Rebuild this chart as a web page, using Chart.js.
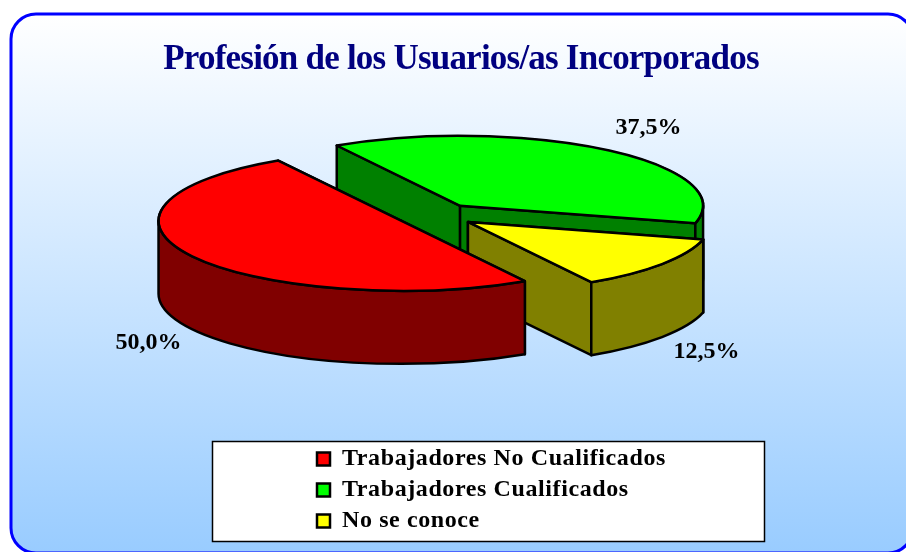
<!DOCTYPE html>
<html><head><meta charset="utf-8">
<style>html,body{margin:0;padding:0;background:#fff}canvas{display:block}</style>
<script src="https://cdn.jsdelivr.net/npm/chart.js@4/dist/chart.umd.min.js"></script>
</head><body><canvas id="c" width="906" height="552"></canvas>
<script>
const categories = ['Trabajadores No Cualificados', 'Trabajadores Cualificados', 'No se conoce'];
const shares = [50.0, 37.5, 12.5];
const topColors = ['#FF0000', '#00FF00', '#FFFF00'];
const sideColors = ['#800000', '#008000', '#808000'];
const titleText = 'Profesión de los Usuarios/as Incorporados';
const paintOrder = [1, 2, 0];
const labelAnchors = [[148.5, 343], [648.5, 128], [706.5, 352]];

const PIE = {cx: 436, cy: 215, radius: 243, squash: 0.288, depth: 73, explode: 40};
const FRAME = {x: 11, y: 14, w: 902, h: 539, r: 25};
const LEGEND_BOX = {x: 212.5, y: 441.5, w: 552, h: 100};
const SERIF = '"Liberation Serif", "Times New Roman", serif';

function withSpacing(box, spacing) {
  const orig = box.draw.bind(box);
  box.draw = function (a) {
    const ctx = box.ctx;
    ctx.save();
    ctx.letterSpacing = spacing;
    orig(a);
    ctx.restore();
  };
}

const pie3d = {
  id: 'pie3d',
  afterLayout(chart) {
    chart.legend.left = 310;
    chart.legend.top = 440;
    chart.legend.right = 760;
    chart.legend.bottom = 540;
    if (!chart.$wrapped) {
      chart.$wrapped = true;
      withSpacing(chart.legend, '0.6px');
      withSpacing(chart.titleBlock, '-0.78px');
    }
  },
  beforeDraw(chart) {
    const ctx = chart.ctx;
    const g = ctx.createLinearGradient(0, FRAME.y, 0, 552);
    g.addColorStop(0, '#FFFFFF');
    g.addColorStop(1, '#99CCFF');
    ctx.save();
    ctx.beginPath();
    ctx.roundRect(FRAME.x, FRAME.y, FRAME.w, FRAME.h, FRAME.r);
    ctx.fillStyle = g;
    ctx.fill();
    ctx.strokeStyle = '#0000FF';
    ctx.lineWidth = 3;
    ctx.stroke();
    ctx.fillStyle = '#FFFFFF';
    ctx.strokeStyle = '#000000';
    ctx.lineWidth = 1.5;
    ctx.fillRect(LEGEND_BOX.x, LEGEND_BOX.y, LEGEND_BOX.w, LEGEND_BOX.h);
    ctx.strokeRect(LEGEND_BOX.x, LEGEND_BOX.y, LEGEND_BOX.w, LEGEND_BOX.h);
    ctx.restore();
  },
  beforeDatasetDraw(chart, args) {
    const ctx = chart.ctx;
    const arcs = args.meta.data;
    const a = PIE.radius, b = a * PIE.squash, D = PIE.depth;
    ctx.save();
    ctx.lineJoin = 'round';
    ctx.lineWidth = 2.5;
    ctx.strokeStyle = '#000000';
    for (const i of paintOrder) {
      const arc = arcs[i];
      const s = arc.startAngle, e = arc.endAngle, mid = (s + e) / 2;
      const cx = PIE.cx + PIE.explode * Math.cos(mid);
      const cy = PIE.cy + PIE.explode * Math.sin(mid) * PIE.squash;
      ctx.fillStyle = sideColors[i];
      for (const t of [s, e]) {
        const ex = cx + a * Math.cos(t), ey = cy + b * Math.sin(t);
        ctx.beginPath();
        ctx.moveTo(cx, cy);
        ctx.lineTo(ex, ey);
        ctx.lineTo(ex, ey + D);
        ctx.lineTo(cx, cy + D);
        ctx.closePath();
        ctx.fill();
        ctx.stroke();
      }
      for (const k of [0, 2 * Math.PI]) {
        const lo = Math.max(s, k), hi = Math.min(e, k + Math.PI);
        if (hi <= lo) continue;
        ctx.beginPath();
        ctx.ellipse(cx, cy, a, b, 0, lo, hi, false);
        ctx.ellipse(cx, cy + D, a, b, 0, hi, lo, true);
        ctx.closePath();
        ctx.fill();
        ctx.stroke();
      }
      ctx.save();
      ctx.translate(cx, cy);
      ctx.scale(1, PIE.squash);
      ctx.translate(-arc.x, -arc.y);
      arc.draw(ctx);
      ctx.restore();
      ctx.beginPath();
      ctx.moveTo(cx, cy);
      ctx.ellipse(cx, cy, a, b, 0, s, e, false);
      ctx.closePath();
      ctx.stroke();
    }
    ctx.restore();
    return false;
  },
  afterDatasetsDraw(chart) {
    const ctx = chart.ctx;
    ctx.save();
    ctx.font = 'bold 24px ' + SERIF;
    ctx.fillStyle = '#000000';
    ctx.textAlign = 'center';
    ctx.textBaseline = 'middle';
    shares.forEach((v, i) => {
      ctx.fillText(v.toFixed(1).replace('.', ',') + '%', labelAnchors[i][0], labelAnchors[i][1]);
    });
    ctx.restore();
  }
};

new Chart(document.getElementById('c'), {
  type: 'pie',
  data: {
    labels: categories,
    datasets: [{
      data: shares,
      backgroundColor: topColors,
      borderColor: '#000000',
      borderWidth: 2.5,
      radius: PIE.radius
    }]
  },
  plugins: [pie3d],
  options: {
    responsive: false,
    animation: false,
    rotation: 149.5,
    layout: {padding: {left: 16, top: 39}},
    plugins: {
      tooltip: {enabled: false},
      title: {
        display: true,
        text: titleText,
        color: '#000080',
        font: {family: SERIF, size: 35, weight: 'bold'},
        padding: {top: 0, bottom: 0}
      },
      legend: {
        display: true,
        position: 'chartArea',
        align: 'start',
        labels: {
          color: '#000000',
          font: {family: SERIF, size: 24, weight: 'bold'},
          boxWidth: 13,
          boxHeight: 13,
          padding: 7
        }
      }
    }
  }
});
</script></body></html>
